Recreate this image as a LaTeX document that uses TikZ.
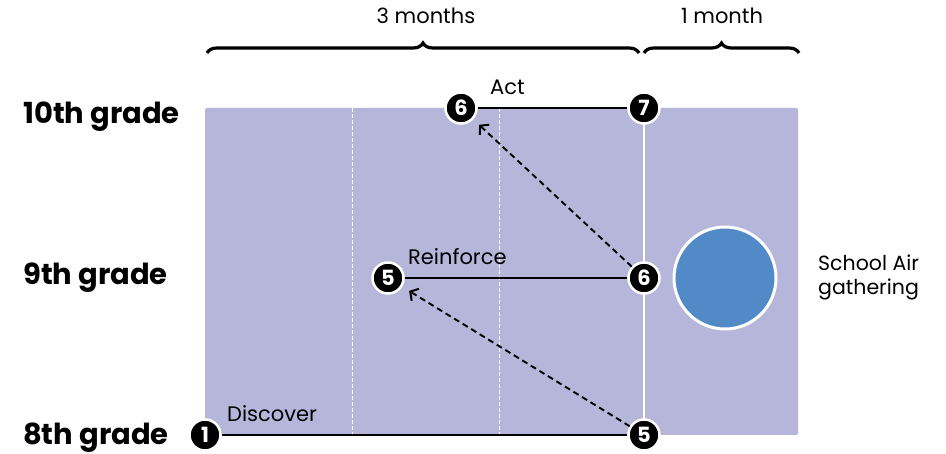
\documentclass[tikz,border=0pt]{standalone}
\usepackage{fontspec}
\setmainfont{Poppins}
\usetikzlibrary{decorations.pathreplacing,arrows.meta}
\definecolor{lav}{HTML}{B6B6DA}
\definecolor{blu}{HTML}{528AC8}
\begin{document}
\begin{tikzpicture}[x=1pt,y=-1pt,
  num/.style={circle,fill=black,draw=white,line width=2.5pt,minimum size=31pt,inner sep=0pt,text=white,font=\bfseries\fontsize{21}{21}\selectfont},
  grade/.style={anchor=base west,inner sep=0pt,font=\bfseries\fontsize{29}{29}\selectfont},
  lbl/.style={anchor=base west,inner sep=0pt,font=\fontsize{21}{22}\selectfont},
  conn/.style={line width=2.8pt},
  darrow/.style={line width=1.9pt,dash pattern=on 6pt off 4pt,-{Straight Barb[length=6pt,width=14pt,line width=2pt]},shorten >=8pt},
  bracestyle/.style={line width=3.2pt,decorate,decoration={brace,amplitude=10pt}}
]
\useasboundingbox (0,0) rectangle (946,454);
% background band
\fill[lav,rounded corners=2pt] (205,108) rectangle (798,435);
\draw[white,line width=1pt,dash pattern=on 4pt off 2pt] (352,108) -- (352,435);
\draw[white,line width=1pt,dash pattern=on 4pt off 2pt] (499,108) -- (499,435);
\draw[white,line width=2.2pt] (644,108) -- (644,435);
% gathering circle
\node[circle,fill=blu,draw=white,line width=3pt,minimum size=102pt,inner sep=0pt] (gather) at (725,278) {};
% connectors
\node[num] (a1) at (205,435) {1};
\node[num] (a5) at (644,435) {5};
\node[num] (b5) at (388,278) {5};
\node[num] (b6) at (644,278) {6};
\node[num] (c6) at (461,108) {6};
\node[num] (c7) at (644,108) {7};
\draw[conn] (a1) -- (a5);
\draw[conn] (b5) -- (b6);
\draw[conn] (c6) -- (c7);
\draw[darrow] (a5) -- (b5);
\draw[darrow] (b6) -- (c6);
% labels
\node[lbl] (tdisc) at (227,422) {Discover};
\node[lbl] (treinf) at (408,265) {Reinforce};
\node[lbl] (tact) at (490,95) {Act};
\node[lbl,align=left,anchor=north west,font=\fontsize{20.5}{24}\selectfont] (tsch) at (818,255) {School Air\\gathering};
% grades
\node[grade] (g10) at (23,124) {10th grade};
\node[grade] (g9) at (23,285) {9th grade};
\node[grade] (g8) at (23,445) {8th grade};
% braces
\coordinate (br1a) at (207,53);
\coordinate (br1b) at (639,53);
\coordinate (br2a) at (644,53);
\coordinate (br2b) at (799,53);
\draw[bracestyle] (br1a) -- (br1b);
\draw[bracestyle] (br2a) -- (br2b);
\node[lbl,anchor=base] (t3m) at (426,24) {3 months};
\node[lbl,anchor=base] (t1m) at (722,24) {1 month};
\end{tikzpicture}
\end{document}
